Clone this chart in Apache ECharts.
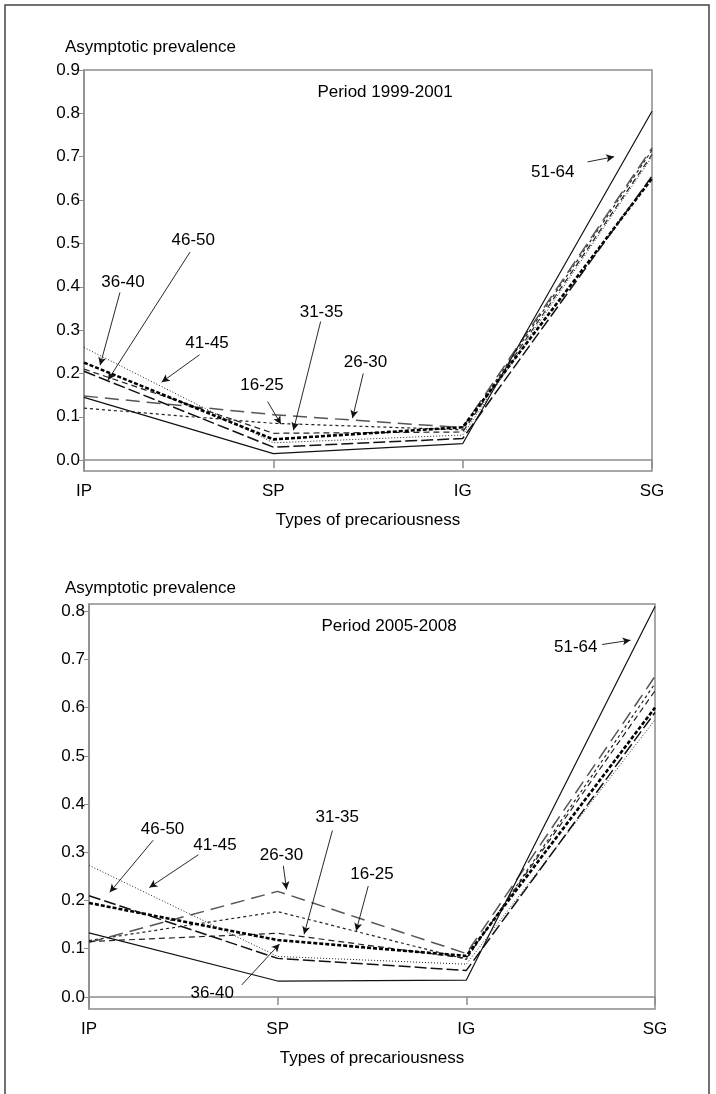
<!DOCTYPE html>
<html>
<head>
<meta charset="utf-8">
<script src="https://cdn.jsdelivr.net/npm/echarts@6/dist/echarts.min.js"></script>
<style>
html,body{margin:0;padding:0;background:#fff;}
#chart{width:716px;height:1094px;}
</style>
</head>
<body>
<div id="chart"></div>
<script>
// ---- data ----
const categories = ['IP', 'SP', 'IG', 'SG'];
const ageGroups = ['16-25', '26-30', '31-35', '36-40', '41-45', '46-50', '51-64'];
const yTicksTop = [0, 0.1, 0.2, 0.3, 0.4, 0.5, 0.6, 0.7, 0.8, 0.9];
const yTicksBottom = [0, 0.1, 0.2, 0.3, 0.4, 0.5, 0.6, 0.7, 0.8];

// Period 1999-2001 (values at IP, SP, IG, SG)
const p1_16_25 = [0.12, 0.085, 0.07, 0.715];
const p1_26_30 = [0.148, 0.105, 0.075, 0.72];
const p1_31_35 = [0.21, 0.062, 0.065, 0.705];
const p1_36_40 = [0.225, 0.048, 0.076, 0.65];
const p1_41_45 = [0.26, 0.04, 0.058, 0.70];
const p1_46_50 = [0.205, 0.03, 0.05, 0.655];
const p1_51_64 = [0.145, 0.015, 0.038, 0.805];

// Period 2005-2008
const p2_16_25 = [0.117, 0.177, 0.078, 0.65];
const p2_26_30 = [0.113, 0.219, 0.09, 0.665];
const p2_31_35 = [0.115, 0.132, 0.08, 0.635];
const p2_36_40 = [0.195, 0.118, 0.085, 0.60];
const p2_41_45 = [0.273, 0.084, 0.068, 0.575];
const p2_46_50 = [0.21, 0.08, 0.055, 0.59];
const p2_51_64 = [0.133, 0.033, 0.035, 0.81];

const period1 = [p1_16_25, p1_26_30, p1_31_35, p1_36_40, p1_41_45, p1_46_50, p1_51_64];
const period2 = [p2_16_25, p2_26_30, p2_31_35, p2_36_40, p2_41_45, p2_46_50, p2_51_64];

// annotation labels: [text, labelX, labelY, arrowFromX, arrowFromY, arrowToX, arrowToY] in data units
const notesTop = [
  ['46-50', 0.577, 0.508, 0.56, 0.48, 0.127, 0.185],
  ['36-40', 0.206, 0.411, 0.19, 0.387, 0.085, 0.219],
  ['41-45', 0.65, 0.27, 0.61, 0.243, 0.41, 0.18],
  ['16-25', 0.94, 0.173, 0.97, 0.135, 1.04, 0.083],
  ['31-35', 1.254, 0.342, 1.25, 0.32, 1.106, 0.069],
  ['26-30', 1.487, 0.226, 1.475, 0.2, 1.418, 0.097],
  ['51-64', 2.476, 0.665, 2.66, 0.688, 2.8, 0.70]
];
const notesBottom = [
  ['46-50', 0.39, 0.348, 0.34, 0.325, 0.11, 0.217],
  ['41-45', 0.668, 0.315, 0.58, 0.295, 0.32, 0.227],
  ['26-30', 1.02, 0.294, 1.03, 0.272, 1.047, 0.223],
  ['31-35', 1.316, 0.372, 1.29, 0.345, 1.14, 0.13],
  ['16-25', 1.5, 0.254, 1.48, 0.23, 1.416, 0.137],
  ['36-40', 0.653, 0.008, 0.81, 0.025, 1.01, 0.11],
  ['51-64', 2.58, 0.726, 2.72, 0.731, 2.87, 0.74]
];

// ---- styles ----
const lineStyles = {
  '16-25': {type: [3, 3], width: 1.2, color: '#222'},
  '26-30': {type: [14, 7], width: 1.5, color: '#555'},
  '31-35': {type: [6, 4], width: 1.2, color: '#222'},
  '36-40': {type: [4, 2], width: 2.6, color: '#000'},
  '41-45': {type: [1, 2], width: 1, color: '#222'},
  '46-50': {type: [12, 4], width: 1.5, color: '#111'},
  '51-64': {type: 'solid', width: 1.2, color: '#111'}
};

const FONT = 'Liberation Sans, Arial, sans-serif';
const TXT = '#000';
const AX = '#8c8c8c';

function xAxisCfg(gridIndex) {
  return {
    type: 'value', gridIndex, min: 0, max: 3, interval: 1,
    name: 'Types of precariousness', nameLocation: 'middle', nameGap: 41,
    nameTextStyle: {fontFamily: FONT, fontSize: 17, color: TXT},
    axisLine: {show: true, lineStyle: {color: AX, width: 1.5}},
    axisTick: {show: true, length: 8, lineStyle: {color: AX, width: 1.5}},
    axisLabel: {margin: 12, fontFamily: FONT, fontSize: 17, color: TXT,
      formatter: v => categories[Math.round(v)]},
    splitLine: {show: false}
  };
}
function yAxisCfg(gridIndex, max, ticks) {
  return {
    type: 'value', gridIndex, min: -0.025, max,
    axisLine: {show: true, lineStyle: {color: AX, width: 1.5}},
    axisTick: {show: true, length: 5, customValues: ticks, lineStyle: {color: AX, width: 1}},
    axisLabel: {margin: 4, customValues: ticks, fontFamily: FONT, fontSize: 17, color: TXT,
      formatter: v => v.toFixed(1)},
    splitLine: {show: false}
  };
}

function lineSeries(data, idx) {
  return data.map((vals, i) => ({
    type: 'line', xAxisIndex: idx, yAxisIndex: idx, name: ageGroups[i],
    data: vals.map((v, j) => [j, v]),
    symbol: 'none', lineStyle: lineStyles[ageGroups[i]], silent: true, z: 3
  }));
}
function noteSeries(notes, idx) {
  return {
    type: 'scatter', xAxisIndex: idx, yAxisIndex: idx, symbolSize: 0, silent: true,
    itemStyle: {opacity: 1},
    data: notes.map(n => ({name: n[0], value: [n[1], n[2]]})),
    label: {show: true, position: 'inside', formatter: p => p.name,
      fontFamily: FONT, fontSize: 17, color: TXT, textBorderWidth: 0, opacity: 1},
    markLine: {
      silent: true, symbol: ['none', 'arrow'], symbolSize: [6, 8],
      label: {show: false},
      lineStyle: {type: 'solid', color: '#111', width: 0.9, opacity: 1},
      data: notes.map(n => [{coord: [n[3], n[4]]}, {coord: [n[5], n[6]]}])
    },
    z: 5
  };
}

const chart = echarts.init(document.getElementById('chart'), null, {renderer: 'canvas'});
chart.setOption({
  backgroundColor: '#fff',
  animation: false,
  title: [
    {text: 'Asymptotic prevalence', left: 60, top: 34,
      textStyle: {fontFamily: FONT, fontSize: 17, fontWeight: 'normal', color: TXT}},
    {text: 'Period 1999-2001', left: 380, top: 79, textAlign: 'center',
      textStyle: {fontFamily: FONT, fontSize: 17, fontWeight: 'normal', color: TXT}},
    {text: 'Asymptotic prevalence', left: 60, top: 575,
      textStyle: {fontFamily: FONT, fontSize: 17, fontWeight: 'normal', color: TXT}},
    {text: 'Period 2005-2008', left: 384, top: 613, textAlign: 'center',
      textStyle: {fontFamily: FONT, fontSize: 17, fontWeight: 'normal', color: TXT}}
  ],
  graphic: [{
    type: 'rect', shape: {x: 5, y: 5, width: 704, height: 1100},
    style: {fill: 'none', stroke: '#444', lineWidth: 1.5}, silent: true, z: -1
  }],
  grid: [
    {left: 84, top: 70, width: 568, height: 401, show: true, borderColor: AX, borderWidth: 1.5, backgroundColor: 'transparent'},
    {left: 89, top: 604, width: 566, height: 405, show: true, borderColor: AX, borderWidth: 1.5, backgroundColor: 'transparent'}
  ],
  xAxis: [xAxisCfg(0), xAxisCfg(1)],
  yAxis: [yAxisCfg(0, 0.9, yTicksTop), yAxisCfg(1, 0.815, yTicksBottom)],
  series: [
    ...lineSeries(period1, 0),
    ...lineSeries(period2, 1),
    noteSeries(notesTop, 0),
    noteSeries(notesBottom, 1)
  ]
});
</script>
</body>
</html>
